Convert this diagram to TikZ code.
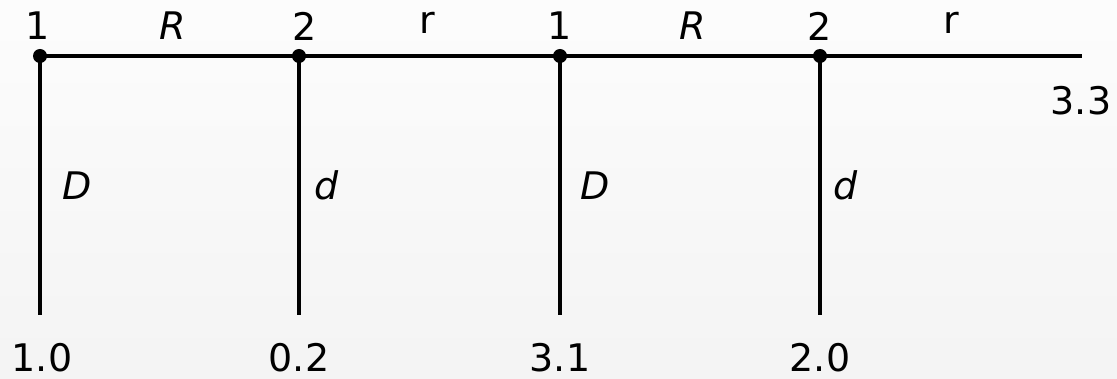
\documentclass[tikz,border=0pt]{standalone}
\usepackage{fontspec}
\setmainfont{DejaVu Sans}
\begin{document}
\begin{tikzpicture}[x=1pt,y=-1pt,
  wire/.style={line width=3.4pt,black},
  dot/.style={circle,fill=black,inner sep=0pt,minimum size=14pt},
  lbl/.style={anchor=base,inner sep=0pt,font=\fontsize{38}{42}\selectfont}]
\shade[top color=white!98!gray, bottom color=gray!9] (0,0) rectangle (1117,379);
\useasboundingbox (0,0) rectangle (1117,379);
% junctions
\node[dot] (j1) at (40,56) {};
\node[dot] (j2) at (299,56) {};
\node[dot] (j3) at (560,56) {};
\node[dot] (j4) at (820,56) {};
\coordinate (e) at (1082,56);
\coordinate (b1) at (40,315);
\coordinate (b2) at (299,315);
\coordinate (b3) at (560,315);
\coordinate (b4) at (820,315);
\draw[wire] (j1.center) -- (j2.center) -- (j3.center) -- (j4.center) -- (e);
\draw[wire] (j1.center) -- (b1);
\draw[wire] (j2.center) -- (b2);
\draw[wire] (j3.center) -- (b3);
\draw[wire] (j4.center) -- (b4);
% top labels
\node[lbl] (t1) at (38,40) {1};
\node[lbl] (tR1) at (173,40) {\itshape R};
\node[lbl] (t2) at (305,41) {2};
\node[lbl] (tr1) at (427,34) {r};
\node[lbl] (t3) at (560,40) {1};
\node[lbl] (tR2) at (693,40) {\itshape R};
\node[lbl] (t4) at (820,41) {2};
\node[lbl] (tr2) at (951,34) {r};
\node[lbl] (t33) at (1081,115) {3.3};
% side labels
\node[lbl] (D1) at (77,200) {\itshape D};
\node[lbl] (d1) at (327,200) {\itshape d};
\node[lbl] (D2) at (595,200) {\itshape D};
\node[lbl] (d2) at (846,200) {\itshape d};
% bottom labels
\node[lbl] (v1) at (42,372) {1.0};
\node[lbl] (v2) at (299,372) {0.2};
\node[lbl] (v3) at (560,372) {3.1};
\node[lbl] (v4) at (820,372) {2.0};
\end{tikzpicture}
\end{document}
